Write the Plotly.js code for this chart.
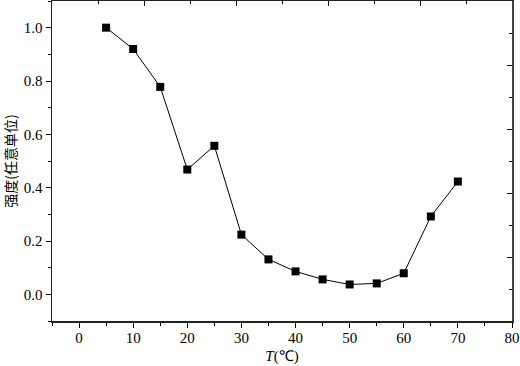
<!DOCTYPE html>
<html>
<head>
<meta charset="utf-8">
<script src="https://cdn.plot.ly/plotly-3.0.1.min.js"></script>
<style>html,body{margin:0;padding:0;background:#fff}#chart{width:520px;height:366px}</style>
</head>
<body>
<div id="chart"></div>
<script>
const temperature = [5, 10, 15, 20, 25, 30, 35, 40, 45, 50, 55, 60, 65, 70];
const intensity = [1.0, 0.920, 0.778, 0.468, 0.557, 0.224, 0.131, 0.086, 0.056, 0.037, 0.041, 0.079, 0.292, 0.423];
const xTitle = '<i>T</i>(℃)';
const yTitle = '强度(任意单位)';

const SERIF = 'Liberation Serif';
const trace = {
  x: temperature, y: intensity, type: 'scatter', mode: 'lines+markers',
  line: {color: '#000', width: 1},
  marker: {symbol: 'square', size: 8, color: '#000'},
  hoverinfo: 'skip', showlegend: false
};
const frameTrace = {
  x: [], y: [], xaxis: 'x2', yaxis: 'y2', type: 'scatter', mode: 'markers',
  hoverinfo: 'skip', showlegend: false
};
const layout = {
  width: 520, height: 366,
  margin: {l: 52, r: 8, t: 1, b: 45},
  paper_bgcolor: '#fff', plot_bgcolor: '#fff',
  font: {family: SERIF, size: 15, color: '#000'},
  xaxis: {
    range: [-5, 80], tick0: 0, dtick: 10, ticks: 'outside', ticklen: 5, tickwidth: 1, tickcolor: '#000',
    minor: {dtick: 5, ticks: 'outside', ticklen: 3, tickwidth: 1, tickcolor: '#000', showgrid: false},
    showline: true, linecolor: '#222', linewidth: 1.5, showgrid: false, zeroline: false,
    ticklabelstandoff: -3,
    tickfont: {family: SERIF, size: 15, color: '#000'},
    title: {text: xTitle, font: {family: SERIF, size: 15, color: '#000'}, standoff: 6}
  },
  yaxis: {
    range: [-0.1, 1.1], tick0: 0, dtick: 0.2, tickformat: '.1f', ticks: 'outside', ticklen: 5, tickwidth: 1, tickcolor: '#000',
    minor: {dtick: 0.1, ticks: 'outside', ticklen: 3, tickwidth: 1, tickcolor: '#000', showgrid: false},
    showline: true, linecolor: '#222', linewidth: 1.5, showgrid: false, zeroline: false,
    tickfont: {family: SERIF, size: 15, color: '#000'},
    title: {text: yTitle, font: {family: 'Noto Sans CJK SC', size: 14, color: '#000'}, standoff: 8}
  },
  xaxis2: {
    overlaying: 'x', side: 'top', anchor: 'y2', range: [0, 10], tick0: 0, dtick: 2,
    ticks: 'inside', ticklen: 5, tickwidth: 1, tickcolor: '#000', showticklabels: false,
    minor: {dtick: 1, ticks: 'inside', ticklen: 3, tickwidth: 1, tickcolor: '#000', showgrid: false},
    showline: true, linecolor: '#222', linewidth: 1.5, showgrid: false, zeroline: false
  },
  yaxis2: {
    overlaying: 'y', side: 'right', anchor: 'x2', range: [0, 10], tick0: 0, dtick: 2,
    ticks: 'inside', ticklen: 5, tickwidth: 1, tickcolor: '#000', showticklabels: false,
    minor: {dtick: 1, ticks: 'inside', ticklen: 3, tickwidth: 1, tickcolor: '#000', showgrid: false},
    showline: true, linecolor: '#444', linewidth: 2, showgrid: false, zeroline: false
  }
};
Plotly.newPlot('chart', [trace, frameTrace], layout, {displayModeBar: false, staticPlot: true});
</script>
</body>
</html>
